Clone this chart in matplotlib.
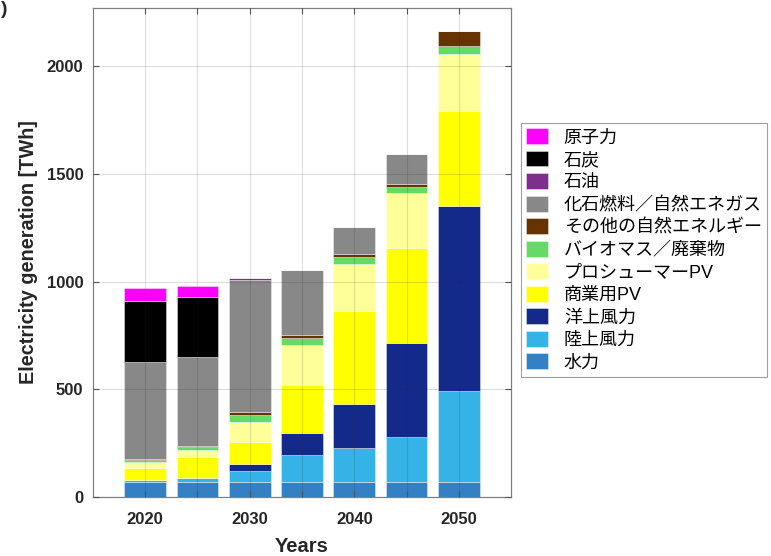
import matplotlib
matplotlib.use("Agg")
import matplotlib.pyplot as plt
import numpy as np

plt.rcParams['font.family'] = ['Liberation Sans', 'Noto Sans CJK JP', 'DejaVu Sans']

years = [2020, 2025, 2030, 2035, 2040, 2045, 2050]

# Generation by source [TWh], stacked bottom-up
hydro      = [70, 70, 70, 70, 70, 70, 70]
onshore    = [10, 18, 52, 126, 157, 209, 422]
offshore   = [0, 0, 30, 100, 205, 436, 859]
commercial = [53, 96, 103, 222, 431, 440, 441]
prosumer   = [31, 34, 93, 188, 220, 255, 265]
biomass    = [8, 13, 31, 32, 30, 28, 37]
other_re   = [6, 4, 14, 13, 14, 14, 71]
gas        = [447, 416, 616, 304, 125, 140, 0]
oil        = [0, 0, 6, 0, 0, 0, 0]
coal       = [286, 277, 0, 0, 0, 0, 0]
nuclear    = [59, 52, 0, 0, 0, 0, 0]

series = [
    ("水力", hydro, "#3380C4"),
    ("陸上風力", onshore, "#35B3E6"),
    ("洋上風力", offshore, "#142A8B"),
    ("商業用PV", commercial, "#FFFF00"),
    ("プロシューマーPV", prosumer, "#FFFF99"),
    ("バイオマス／廃棄物", biomass, "#66D966"),
    ("その他の自然エネルギー", other_re, "#663300"),
    ("化石燃料／自然エネガス", gas, "#888888"),
    ("石油", oil, "#7E2F8E"),
    ("石炭", coal, "#000000"),
    ("原子力", nuclear, "#FF00FF"),
]

fig = plt.figure(figsize=(7.71, 5.56), dpi=100)
ax = fig.add_axes([0.1206, 0.1061, 0.5422, 0.8795])

bottom = np.zeros(len(years))
handles = []
for name, vals, col in series:
    v = np.array(vals, dtype=float)
    h = ax.bar(years, v, width=4.0, bottom=bottom, color=col,
               edgecolor=(1, 1, 1, 0.45), linewidth=0.6, label=name, zorder=2)
    handles.append(h)
    bottom += v

ax.set_xlim(2015, 2055)
ax.set_ylim(0, 2270)
ax.set_xticks(np.arange(2020, 2051, 5))
ax.set_xticklabels(["2020", "", "2030", "", "2040", "", "2050"])
ax.set_yticks([0, 500, 1000, 1500, 2000])

ax.grid(True, color=(0.15, 0.15, 0.15), alpha=0.15, linewidth=0.8, zorder=3)
ax.set_axisbelow(False)

for s in ax.spines.values():
    s.set_color("#808080")
    s.set_linewidth(0.9)
ax.tick_params(direction="in", length=4, width=0.8, color="#555555",
               top=True, right=True, labelsize=12, labelcolor="#262626")
ax.tick_params(axis="x", pad=11)
ax.tick_params(axis="y", pad=7)
for lab in ax.get_xticklabels() + ax.get_yticklabels():
    lab.set_fontweight("bold")

ax.set_xlabel("Years", fontsize=14.5, fontweight="bold", color="#262626", labelpad=7)
ax.set_ylabel("Electricity generation [TWh]", fontsize=14.3, fontweight="bold",
              color="#262626", labelpad=6)

leg = fig.legend(handles[::-1], [s[0] for s in series][::-1],
                 loc="upper left", bbox_to_anchor=(521 / 771, 1 - 123 / 556),
                 fontsize=13, frameon=True, fancybox=False, edgecolor="#888888",
                 handlelength=1.17, handleheight=0.95, handletextpad=0.9,
                 labelspacing=0.25, borderpad=0.3, borderaxespad=0)
leg.get_frame().set_linewidth(0.8)

fig.text(0.001, 0.999, ")", ha="left", va="top", fontsize=14, fontweight="bold",
         color="#262626")

fig.savefig("out.png", dpi=100)
